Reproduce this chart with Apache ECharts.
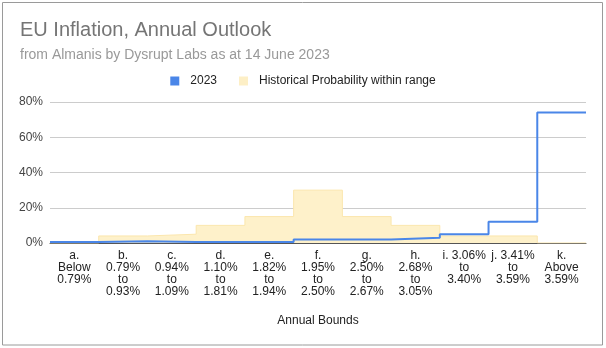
<!DOCTYPE html>
<html>
<head>
<meta charset="utf-8">
<script src="https://cdn.jsdelivr.net/npm/echarts@6/dist/echarts.min.js"></script>
<style>
html,body{margin:0;padding:0;background:#fff;}
#chart{width:606px;height:348px;}
</style>
</head>
<body>
<div id="chart"></div>
<script>
// ---- data ----
const categories = [
  'a.\nBelow\n0.79%',
  'b.\n0.79%\nto\n0.93%',
  'c.\n0.94%\nto\n1.09%',
  'd.\n1.10%\nto\n1.81%',
  'e.\n1.82%\nto\n1.94%',
  'f.\n1.95%\nto\n2.50%',
  'g.\n2.50%\nto\n2.67%',
  'h.\n2.68%\nto\n3.05%',
  'i. 3.06%\nto\n3.40%',
  'j. 3.41%\nto\n3.59%',
  'k.\nAbove\n3.59%'
];
const values2023 = [0.5, 1, 0.5, 0.5, 0.5, 2, 2, 3, 5, 12, 74];
const historical = [0, 4, 5, 10, 15, 30, 15, 10, 4, 4, 0];
const yTicks = [0, 20, 40, 60, 80];

function stepPoints(vals) {
  const pts = vals.map((v, i) => [i, v]);
  pts.push([vals.length, vals[vals.length - 1]]);
  return pts;
}

const chart = echarts.init(document.getElementById('chart'), null, {renderer: 'canvas'});
const FONT = 'Liberation Sans, Arial, sans-serif';
chart.setOption({
  animation: false,
  backgroundColor: '#fff',
  textStyle: {fontFamily: FONT},
  graphic: [{
    type: 'rect', silent: true,
    shape: {x: 2.5, y: 2.5, width: 600, height: 342.5},
    style: {fill: 'none', stroke: '#9a9a9a', lineWidth: 1}
  }],
  title: [
    {text: 'EU Inflation, Annual Outlook', left: 15, top: 15,
     textStyle: {fontFamily: FONT, fontSize: 20, fontWeight: 'normal', color: '#757575'}},
    {text: 'from Almanis by Dysrupt Labs as at 14 June 2023', left: 15, top: 43,
     textStyle: {fontFamily: FONT, fontSize: 14, fontWeight: 'normal', color: '#999'}}
  ],
  legend: {
    top: 75, left: 'center', padding: 0, icon: 'rect', itemWidth: 9, itemHeight: 9, itemGap: 22,
    textStyle: {fontFamily: FONT, fontSize: 12, color: '#222', padding: [0, 0, 0, 6]},
    data: ['2023', 'Historical Probability within range']
  },
  grid: {left: 50, right: 20, top: 102, bottom: 105, containLabel: false},
  xAxis: [
    {type: 'value', min: 0, max: categories.length, show: false},
    {type: 'category', data: categories, position: 'bottom', boundaryGap: true,
     axisLine: {show: true, lineStyle: {color: '#555', width: 1}},
     axisTick: {show: false},
     axisLabel: {interval: 0, margin: 7, fontFamily: FONT, fontSize: 12, lineHeight: 12, color: '#222', align: 'center'},
     name: 'Annual Bounds', nameLocation: 'middle', nameGap: 72,
     nameTextStyle: {fontFamily: FONT, fontSize: 12, color: '#222'}}
  ],
  yAxis: {
    type: 'value', min: yTicks[0], max: yTicks[yTicks.length - 1], interval: 20,
    axisLine: {show: false}, axisTick: {show: false},
    axisLabel: {formatter: '{value}%', fontFamily: FONT, fontSize: 12, color: '#444', margin: 7},
    splitLine: {lineStyle: {color: '#cccccc', width: 1}}
  },
  series: [
    {
      name: 'Historical Probability within range', type: 'line', xAxisIndex: 0,
      step: 'end', symbol: 'none', showSymbol: false,
      data: stepPoints(historical),
      itemStyle: {color: '#fdefc6'},
      lineStyle: {color: '#fbe6ad', width: 1},
      areaStyle: {color: '#fef1ca', opacity: 1},
      z: 1
    },
    {
      name: '2023', type: 'line', xAxisIndex: 0,
      step: 'end', symbol: 'none', showSymbol: false,
      data: stepPoints(values2023),
      itemStyle: {color: '#4a86e8'},
      lineStyle: {color: '#4a86e8', width: 2},
      z: 3
    }
  ]
});
</script>
</body>
</html>
